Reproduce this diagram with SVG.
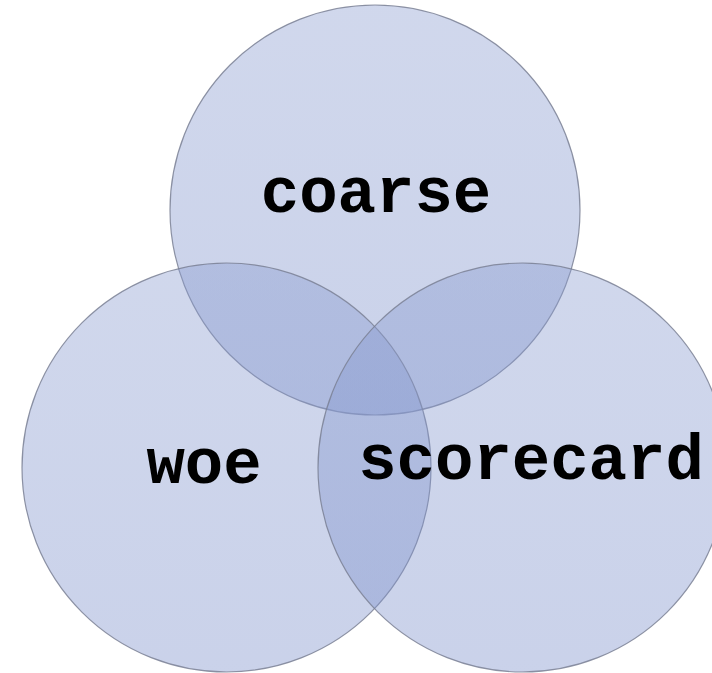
<svg xmlns="http://www.w3.org/2000/svg" width="712" height="673" viewBox="0 0 712 673">
<defs>
<linearGradient id="g" x1="0" y1="0" x2="0" y2="1">
<stop offset="0" stop-color="rgb(138,156,208)"/>
<stop offset="1" stop-color="rgb(122,142,202)"/>
</linearGradient>
</defs>
<style>
.c{fill:url(#g);fill-opacity:0.4;stroke:#7a8094;stroke-width:1.2;stroke-opacity:0.85}
.t{font-family:"Liberation Mono","Courier New",monospace;font-weight:bold;font-size:64px;fill:#000;text-anchor:middle}
</style>
<rect width="712" height="673" fill="#fff"/>
<g id="coarse"><circle class="c" cx="375" cy="210" r="205"/></g>
<g id="woe"><circle class="c" cx="226.5" cy="467.5" r="204.5"/></g>
<g id="scorecard"><circle class="c" cx="522.5" cy="467.5" r="204.5"/></g>
<g id="labels">
<text class="t" x="376" y="212">coarse</text>
<text class="t" x="204" y="483">woe</text>
<text class="t" x="531" y="479">scorecard</text>
</g>
<g id="connectors"/>
</svg>
